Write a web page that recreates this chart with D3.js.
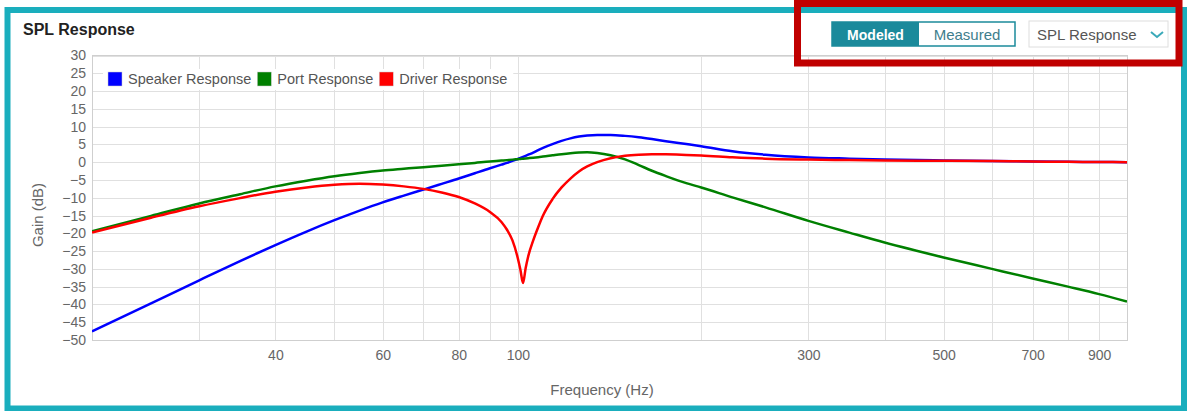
<!DOCTYPE html>
<html lang="en">
<head>
  <meta charset="UTF-8">
  <title>SPL Response</title>
  <script src="https://d3js.org/d3.v7.min.js"></script>
  <style>
    html, body {
      margin: 0;
      padding: 0;
      background: #fff;
    }
    body {
      font-family: "Liberation Sans", Arial, sans-serif;
    }
    svg {
      display: block;
    }
    .grid line {
      stroke: #e0e0e0;
      shape-rendering: crispEdges;
    }
    .grid path {
      display: none;
    }
    .grid text {
      fill: #666;
      font-size: 14px;
      font-family: "Liberation Sans", Arial, sans-serif;
    }
    .line {
      fill: none;
      stroke-width: 2.5px;
      stroke-linejoin: round;
    }
  </style>
</head>
<body>
  <script>
    // frequencies (Hz) shared by the three series
    const freqs = [20, 25, 30, 35, 40, 45, 50, 55, 60, 65,
                   70, 75, 80, 85, 90, 94, 96, 98, 100, 101,
                   102, 103, 104, 106, 108, 110, 114, 118, 122, 126,
                   130, 135, 142, 150, 158, 166, 175, 189, 200, 225,
                   255, 300, 350, 400, 500, 600, 700, 800, 900, 1000];

    // gain (dB)
    const speakerResponse = [-47.6, -39.7, -33.2, -27.8, -23.3, -19.5, -16.3, -13.6, -11.3, -9.4,
                             -7.7, -6.1, -4.6, -3.1, -1.7, -0.7, -0.2, 0.35, 0.9, 1.2,
                             1.5, 1.8, 2.1, 2.7, 3.4, 4.0, 5.1, 6.0, 6.7, 7.2,
                             7.5, 7.65, 7.65, 7.4, 7.0, 6.5, 5.9, 5.1, 4.5, 3.1,
                             2.1, 1.35, 1.0, 0.75, 0.5, 0.35, 0.2, 0.1, 0.05, 0];
    const portResponse = [-19.4, -15.1, -11.6, -9.0, -6.8, -5.2, -3.95, -3.05, -2.35, -1.85,
                          -1.4, -1.0, -0.6, -0.2, 0.2, 0.45, 0.58, 0.72, 0.85, 0.92,
                          0.99, 1.06, 1.13, 1.27, 1.42, 1.57, 1.92, 2.25, 2.52, 2.72,
                          2.82, 2.6, 1.95, 0.8, -0.8, -2.4, -3.9, -5.9, -7.1, -9.9,
                          -12.7, -16.5, -19.8, -22.6, -26.8, -30.0, -32.7, -35.0, -37.1, -39.2];
    const driverResponse = [-19.8, -15.6, -12.4, -10.1, -8.3, -7.1, -6.35, -6.05, -6.3, -6.8,
                            -7.5, -8.5, -9.8, -11.6, -14.0, -16.8, -19.0, -22.0, -27.0, -30.3,
                            -34.0, -29.8, -26.5, -22.0, -18.3, -15.0, -10.4, -7.1, -4.6, -2.6,
                            -1.2, 0.0, 1.1, 1.8, 2.1, 2.2, 2.2, 2.05, 1.9, 1.4,
                            1.0, 0.75, 0.6, 0.5, 0.4, 0.3, 0.2, 0.1, 0.05, 0];

    const seriesNames = ["Speaker Response", "Port Response", "Driver Response"];
    const seriesColors = ["#0000ff", "#008000", "#ff0000"];

    // axes
    const xGridValues = [30, 40, 50, 60, 70, 80, 90, 100, 200, 300, 400, 500, 600, 700, 800, 900];
    const xTickLabels = [40, 60, 80, 100, 300, 500, 700, 900];
    const yTickValues = [-50, -45, -40, -35, -30, -25, -20, -15, -10, -5, 0, 5, 10, 15, 20, 25, 30];

    const width = 1188;
    const height = 411;
    const plot = {left: 92, right: 1127, top: 55.5, bottom: 340};

    const svg = d3.select("body").append("svg")
      .attr("width", width)
      .attr("height", height);

    // card border
    svg.append("rect")
      .attr("x", 7.5).attr("y", 10)
      .attr("width", 1176.5).attr("height", 398.5)
      .attr("fill", "#fff")
      .attr("stroke", "#1aaebd")
      .attr("stroke-width", 6);

    svg.append("text")
      .attr("x", 23).attr("y", 35)
      .attr("font-size", 16).attr("font-weight", "bold")
      .attr("fill", "#222")
      .text("SPL Response");

    const xScale = d3.scaleLog().domain([20, 1000]).range([plot.left, plot.right]);
    const yScale = d3.scaleLinear().domain([-50, 30]).range([plot.bottom, plot.top]);

    // vertical grid + x labels
    svg.append("g")
      .attr("class", "grid")
      .attr("transform", `translate(0,${plot.bottom})`)
      .call(d3.axisBottom(xScale)
        .tickValues(xGridValues)
        .tickSize(-(plot.bottom - plot.top))
        .tickPadding(10)
        .tickFormat(d => xTickLabels.includes(d) ? d : ""));

    // horizontal grid + y labels
    svg.append("g")
      .attr("class", "grid")
      .attr("transform", `translate(${plot.left},0)`)
      .call(d3.axisLeft(yScale)
        .tickValues(yTickValues)
        .tickSize(-(plot.right - plot.left))
        .tickPadding(6));

    // plot frame
    svg.append("rect")
      .attr("x", plot.left).attr("y", plot.top)
      .attr("width", plot.right - plot.left).attr("height", plot.bottom - plot.top)
      .attr("fill", "none").attr("stroke", "#cfcfcf")
      .attr("shape-rendering", "crispEdges");

    // axis titles
    svg.append("text")
      .attr("transform", "translate(37,215) rotate(-90)")
      .attr("text-anchor", "middle").attr("dominant-baseline", "central")
      .attr("font-size", 15).attr("fill", "#666")
      .text("Gain (dB)");

    svg.append("text")
      .attr("x", 602).attr("y", 389)
      .attr("text-anchor", "middle").attr("dominant-baseline", "central")
      .attr("font-size", 15).attr("fill", "#666")
      .text("Frequency (Hz)");

    // curves
    svg.append("clipPath").attr("id", "clip")
      .append("rect")
      .attr("x", plot.left).attr("y", plot.top)
      .attr("width", plot.right - plot.left).attr("height", plot.bottom - plot.top);

    const line = d3.line()
      .x(d => xScale(d.f))
      .y(d => yScale(d.v))
      .curve(d3.curveMonotoneX);

    const series = [speakerResponse, portResponse, driverResponse].map((vals, i) => ({
      name: seriesNames[i],
      color: seriesColors[i],
      points: freqs.map((f, j) => ({f: f, v: vals[j]}))
    }));

    svg.append("g").attr("clip-path", "url(#clip)")
      .selectAll(".line")
      .data(series)
      .enter().append("path")
      .attr("class", "line")
      .attr("stroke", d => d.color)
      .attr("d", d => line(d.points));

    // legend
    const legend = svg.append("g");
    const legendBg = legend.append("rect")
      .attr("y", 69).attr("height", 21)
      .attr("fill", "#fff");
    let lx = 108;
    series.forEach(s => {
      legend.append("rect")
        .attr("x", lx).attr("y", 72)
        .attr("width", 14).attr("height", 14)
        .attr("fill", s.color)
        .attr("stroke", "#ccc").attr("stroke-width", 0.5);
      const t = legend.append("text")
        .attr("x", lx + 20).attr("y", 79)
        .attr("dominant-baseline", "central")
        .attr("font-size", 14.5).attr("fill", "#555")
        .text(s.name);
      lx += 20 + t.node().getComputedTextLength() + 6;
    });
    legendBg.attr("x", 103).attr("width", lx - 103);

    // toggle buttons
    svg.append("rect")
      .attr("x", 832).attr("y", 22).attr("width", 183).attr("height", 24)
      .attr("fill", "#fff").attr("stroke", "#1b8a9b").attr("stroke-width", 1.5);
    svg.append("rect")
      .attr("x", 832).attr("y", 22).attr("width", 87).attr("height", 24)
      .attr("fill", "#1b8a9b");
    svg.append("text")
      .attr("x", 875.5).attr("y", 34.5)
      .attr("text-anchor", "middle").attr("dominant-baseline", "central")
      .attr("font-size", 14).attr("font-weight", "bold").attr("fill", "#fff")
      .text("Modeled");
    svg.append("text")
      .attr("x", 967).attr("y", 34.5)
      .attr("text-anchor", "middle").attr("dominant-baseline", "central")
      .attr("font-size", 15).attr("fill", "#3e7e8c")
      .text("Measured");

    // dropdown
    svg.append("rect")
      .attr("x", 1029).attr("y", 21).attr("width", 139).attr("height", 26)
      .attr("fill", "#fff").attr("stroke", "#dedede");
    svg.append("text")
      .attr("x", 1037).attr("y", 34.5)
      .attr("dominant-baseline", "central")
      .attr("font-size", 15).attr("fill", "#555")
      .text("SPL Response");
    svg.append("path")
      .attr("d", "M1151,32 L1157,37 L1163,32")
      .attr("fill", "none").attr("stroke", "#3aa9b9").attr("stroke-width", 2);

    // red highlight box
    svg.append("rect")
      .attr("x", 797.5).attr("y", 3.5).attr("width", 381.5).attr("height", 59.5)
      .attr("fill", "none").attr("stroke", "#c00000").attr("stroke-width", 7);
    svg.append("rect")
      .attr("x", 1094).attr("y", 0).attr("width", 6).attr("height", 4)
      .attr("fill", "#c00000");
  </script>
</body>
</html>
